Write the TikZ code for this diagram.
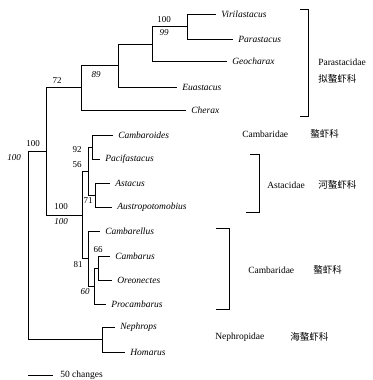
\documentclass[tikz,border=0pt]{standalone}
\usepackage{fontspec}
\setmainfont{Liberation Serif}
\newfontfamily\cjk{Noto Sans CJK SC}
\usetikzlibrary{positioning}

\begin{document}
\begin{tikzpicture}[x=1pt, y=-1pt, line width=0.6pt,
  every node/.style={font=\fontsize{9.5}{11}\selectfont},
  taxon/.style={anchor=west, inner ysep=0pt, inner xsep=5pt, font=\fontsize{9.5}{11}\selectfont\itshape},
  boot/.style={inner sep=0pt, font=\fontsize{9}{10}\selectfont},
  booti/.style={inner sep=0pt, font=\fontsize{9}{10}\selectfont\itshape},
  family/.style={anchor=west, inner sep=0pt},
  bracket/.style={line width=0.6pt}]
\useasboundingbox (0,0) rectangle (372,380);
% taxa (node sits at the end of its branch)
\node[taxon] (vir) at (216,14) {Virilastacus};
\node[taxon] (par) at (233,39) {Parastacus};
\node[taxon] (geo) at (227,61) {Geocharax};
\node[taxon] (eua) at (177,87) {Euastacus};
\node[taxon] (che) at (186,110) {Cherax};
\node[taxon] (cbr) at (113,135) {Cambaroides};
\node[taxon] (pac) at (100,159) {Pacifastacus};
\node[taxon] (ast) at (110,183) {Astacus};
\node[taxon] (aus) at (112,207) {Austropotomobius};
\node[taxon] (cel) at (100,231) {Cambarellus};
\node[taxon] (cms) at (110,256) {Cambarus};
\node[taxon] (ore) at (112,280) {Oreonectes};
\node[taxon] (pro) at (106,304) {Procambarus};
\node[taxon] (nep) at (115,327) {Nephrops};
\node[taxon] (hom) at (125,352) {Homarus};
% internal nodes
\coordinate (vp) at (187,26.5);
\coordinate (vpg) at (152,43.8);
\coordinate (n89) at (118,65.4);
\coordinate (n72) at (81,87.7);
\coordinate (cp) at (92,147);
\coordinate (aa) at (95,195);
\coordinate (n56) at (88,171);
\coordinate (n66) at (98,268);
\coordinate (n60) at (94,286);
\coordinate (n81) at (88,258.5);
\coordinate (astoid) at (82,214.8);
\coordinate (fresh) at (46,151.4);
\coordinate (nephr) at (102,339.5);
\coordinate (root) at (28,245.4);
% branches
\draw (vp) |- (vir.west);
\draw (vp) |- (par.west);
\draw (vpg) |- (vp);
\draw (vpg) |- (geo.west);
\draw (n89) |- (vpg);
\draw (n89) |- (eua.west);
\draw (n72) |- (n89);
\draw (n72) |- (che.west);
\draw (cp) |- (cbr.west);
\draw (cp) |- (pac.west);
\draw (aa) |- (ast.west);
\draw (aa) |- (aus.west);
\draw (n56) |- (cp);
\draw (n56) |- (aa);
\draw (n66) |- (cms.west);
\draw (n66) |- (ore.west);
\draw (n60) |- (n66);
\draw (n60) |- (pro.west);
\draw (n81) |- (cel.west);
\draw (n81) |- (n60);
\draw (astoid) |- (n56);
\draw (astoid) |- (n81);
\draw (fresh) |- (n72);
\draw (fresh) |- (astoid);
\draw (nephr) |- (nep.west);
\draw (nephr) |- (hom.west);
\draw (root) |- (fresh);
\draw (root) |- (nephr);
% support values
\node[boot] (b100a) at (164,20) {100};
\node[booti] (b99) at (164,33) {99};
\node[booti] (b89) at (96,75) {89};
\node[boot] (b72) at (57,81) {72};
\node[boot] (b100b) at (33,144) {100};
\node[booti] (b100c) at (14,158) {100};
\node[boot] (b92) at (77,150) {92};
\node[boot] (b56) at (77,165) {56};
\node[boot] (b71) at (88,201) {71};
\node[boot] (b100d) at (61,207) {100};
\node[booti] (b100e) at (61,222) {100};
\node[boot] (b66) at (98,250) {66};
\node[boot] (b81) at (78,265) {81};
\node[booti] (b60) at (85,292) {60};
% families
\draw[bracket] (300,9) -- (308,9) -- (308,116) -- (300,116);
\node[family] (parfam) at (318,62) {Parastacidae};
\node[family] (parzh) at (318,79) {\cjk 拟螯虾科};
\node[family] (camfa) at (242,134) {Cambaridae};
\node[family] (camza) at (310,134) {\cjk 螯虾科};
\draw[bracket] (250,154) -- (259,154) -- (259,212) -- (246,212);
\node[family] (astfam) at (267,185) {Astacidae};
\node[family] (astzh) at (318,185) {\cjk 河螯虾科};
\draw[bracket] (216,228) -- (229,228) -- (229,309) -- (216,309);
\node[family] (camfb) at (248,270) {Cambaridae};
\node[family] (camzb) at (313,270) {\cjk 螯虾科};
\node[family] (nepfam) at (215,337) {Nephropidae};
\node[family] (nepzh) at (290,337) {\cjk 海螯虾科};
% scale
\coordinate (sbl) at (28,375);
\node[family] (sbt) at (60,375) {50 changes};
\draw (sbl) -- ([xshift=-7pt]sbt.west);
\end{tikzpicture}
\end{document}
